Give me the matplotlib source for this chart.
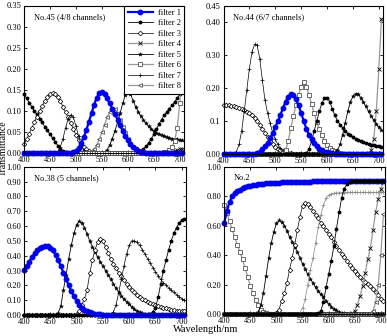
import numpy as np
import matplotlib.pyplot as plt
from matplotlib.lines import Line2D

plt.rcParams['font.family'] = ['Liberation Serif', 'DejaVu Serif']

# wavelength grid, 5 nm steps
wl = np.arange(400, 710, 5)

# ---- No.45 (4/8 channels) ----
p1_f1 = [0]*19 + [.002,
         .006, .013, .024, .038, .055, .075, .095, .115, .132, .143,
         .145, .14, .13, .118, .106, .094, .08, .066, .053, .042,
         .032, .023, .016, .01, .006, .004, .002, .001, .001, .001,
         .001, .001, .001, .001, .001, .001, .001, .001, .001, .001,
         .001, .001]
p1_f2 = [.14, .13, .12, .11, .1, .092, .082, .073, .063, .054,
         .045, .036, .027, .018, .011, .006, .003, .001, 0, 0] + [0]*24 + \
        [.002, .005, .01, .017, .025, .035,
         .045, .057, .07, .08, .09, .098, .106, .114, .122, .13,
         .14, .152]
p1_f3 = [.022, .033, .046, .06, .074, .087, .1, .112, .124, .133,
         .14, .142, .14, .133, .123, .11, .097, .085, .072, .058,
         .043, .031, .021, .014, .009, .005, .003, .002, .001, 0] + [0]*32
p1_f7 = [0]*12 + [.001, .004, .015, .035, .06, .082, .091, .085,
         .065, .04, .02, .008, .003, .001, 0, 0, 0, 0] + [0]*32
p1_f8 = [0]*25 + [.001, .004, .01, .02, .033,
         .05, .068, .085, .098, .106, .105, .095, .08, .063, .047,
         .034, .023, .015, .009, .005, .003, .002, .001, 0, 0] + [0]*12
p1_f5 = [0]*31 + [.002, .008, .02, .035, .053, .073, .095, .118, .138,
         .146, .14, .125, .11, .098, .088, .079, .071, .064, .058,
         .053, .049, .046, .043, .041, .039, .037, .035, .034, .033,
         .032, .031]
p1_f6 = [0]*54 + [.002, .004, .008, .015, .03, .06, .12, .225]
p1_f4 = [0]*55 + [.001, .002, .003, .005, .007, .009, .011]

# ---- No.44 (6/7 channels) ----
p2_f3 = [.15, .149, .148, .147, .145, .143, .14, .137, .133, .129,
         .124, .118, .11, .1, .09, .078, .065, .052, .041, .031,
         .023, .017, .012, .009, .006, .004, .003, .002, .001, 0] + [0]*32
p2_f7 = [0, 0, 0, 0, .002, .008, .03, .07, .13, .195,
         .26, .31, .333, .33, .29, .225, .165, .125, .095, .065,
         .045, .03, .018, .01, .005, .002, .001, 0, 0, 0] + [0]*32
p2_f1 = [0]*13 + [.003, .008, .015, .024, .035, .048, .064,
         .082, .1, .12, .14, .16, .174, .182, .18, .168, .148,
         .125, .1, .078, .06, .045, .033, .024, .017, .012, .008,
         .006, .004, .003, .002, .001, .001, .001, .001, .001, .001,
         .001, .001, .001, .001, .001, .001, .001, .001, .001, .001,
         .001, .001]
p2_f6 = [0]*23 + [.003, .012, .04, .08, .115, .15, .18,
         .205, .218, .205, .18, .152, .124, .098, .076, .057, .041,
         .029, .02, .013, .009, .006, .004, .002, .001, 0, 0] + [0]*12
p2_f2 = [0]*32 + [.003, .015, .04, .07, .1, .13, .155, .17,
         .172, .16, .138, .118, .102, .09, .08, .071, .063, .057,
         .051, .046, .042, .039, .036, .033, .031, .029, .027, .025,
         .024, .023]
p2_f5 = [0]*43 + [.003, .012, .03, .06, .095, .13, .158,
         .176, .184, .182, .172, .158, .145, .13, .116, .104, .092,
         .082, .075]
p2_f4 = [0]*55 + [.001, .004, .012, .045, .13, .26, .41]

# ---- No.38 (5 channels) ----
p3_f1 = [.305, .33, .36, .39, .415, .435, .45, .46, .465, .465,
         .455, .435, .405, .37, .33, .285, .24, .2, .16, .125,
         .095, .07, .05, .035, .025, .017, .012, .008, .006, .004] + [.003]*32
p3_f5 = [0]*12 + [.003, .015, .06, .17, .27, .38, .47, .55,
         .61, .632, .62, .59, .545, .5, .46, .425, .39, .36,
         .33, .3, .27, .24, .21, .18, .155, .13, .11, .09,
         .072, .055, .04, .028, .019, .012, .008, .005, .003, .002,
         .001] + [0]*11
p3_f3 = [0]*19 + [.003,
         .005, .03, .07, .11, .17, .28, .37, .44, .49, .51,
         .5, .46, .42, .375, .345, .315, .285, .26, .235, .21,
         .19, .17, .152, .136, .122, .11, .099, .089, .08, .072,
         .065, .059, .053, .048, .044, .04, .036, .033, .03, .028,
         .026, .024]
p3_f7 = [0]*33 + [.003, .02, .07, .15, .24, .33, .41,
         .47, .5, .5, .49, .47, .44, .41, .38, .35, .32,
         .29, .265, .24, .218, .2, .183, .167, .152, .138, .124,
         .11, .098]
p3_f2 = [0]*48 + [.005, .02,
         .05, .12, .21, .3, .37, .44, .5, .55, .59, .62,
         .64, .65]

# ---- No.2 ----
p4_f1 = [.62, .7, .76, .8, .82, .835, .845, .853, .86, .866,
         .87, .874, .877, .88, .882, .884, .886, .888, .889, .89,
         .891, .892, .893, .894, .895, .895, .896, .896, .897, .897,
         .898, .898, .899, .899, .9, .9, .9, .901, .901, .901,
         .902, .902, .902, .903, .903, .903, .903, .904, .904, .904,
         .904, .904, .905, .905, .905, .905, .905, .905, .905, .905,
         .906, .906]
p4_f6 = [.74, .685, .63, .575, .52, .47, .42, .37, .31, .25,
         .19, .14, .095, .058, .03, .013, .005, .002, .001, 0] + [0]*42
p4_f5 = [0]*12 + [.003, .015, .06, .14, .26, .38, .48, .56,
         .615, .635, .625, .6, .565, .525, .49, .455, .42, .38,
         .34, .305, .27, .24, .21, .18, .155, .135, .115, .09,
         .068, .05, .036, .024, .015, .008, .004, .002, .001, 0] + [0]*12
p4_f3 = [0]*20 + [.005, .03, .09, .14, .21, .3, .38, .47, .57, .66,
         .735, .755, .745, .725, .7, .675, .65, .62, .595, .57,
         .545, .52, .49, .46, .435, .41, .385, .36, .335, .31,
         .29, .27, .25, .23, .215, .205, .19, .17, .15, .128,
         .105, .085]
p4_f7 = [0]*28 + [.002, .01,
         .04, .1, .2, .3, .38, .48, .59, .67, .74, .785,
         .805, .815, .82, .822, .823, .824, .824, .825, .825, .825] + [.825]*12
p4_f2 = [0]*35 + [.002, .005, .02, .08, .18,
         .27, .36, .46, .58, .69, .79, .85, .88, .895, .902] + [.905]*12
p4_f4 = [0]*48 + [.003, .008,
         .02, .06, .12, .19, .28, .37, .45, .57, .69, .78,
         .85, .895]
p4_f8 = [0]*56 + [.003, .02, .08, .2, .4, .68]

blue = '#0000ee'
styles = {
    1: dict(color=blue, lw=1.6, marker='o', ms=3.2, mfc=blue, mec=blue),
    2: dict(color='k', lw=0.6, marker='o', ms=1.8),
    3: dict(color='k', lw=0.5, marker='D', ms=2.4, mfc='white', mew=0.5),
    4: dict(color='#999999', lw=0.9, marker='x', ms=2.4, mec='k', mew=0.6),
    5: dict(color='k', lw=0.6, marker='*', ms=3.0, mew=0.3),
    6: dict(color='#999999', lw=0.9, marker='s', ms=2.8, mfc='white', mec='#333333', mew=0.5),
    7: dict(color='k', lw=0.5, marker='+', ms=3.2, mew=0.5),
    8: dict(color='#999999', lw=0.9, marker='<', ms=2.8, mfc='white', mec='#333333', mew=0.5),
}

fig = plt.figure(figsize=(3.87, 3.36), dpi=100)
W, H = 387.0, 336.0

def make_ax(l, t, r, b):
    return fig.add_axes([l / W, 1 - b / H, (r - l) / W, (b - t) / H])

ax1 = make_ax(24, 5.5, 184, 153.3)
ax2 = make_ax(223.5, 5.8, 383, 154.3)
ax3 = make_ax(24, 166.7, 186, 315)
ax4 = make_ax(224.3, 166.7, 385, 314)

panels = [
    (ax1, [(4, p1_f4), (2, p1_f2), (3, p1_f3), (7, p1_f7), (8, p1_f8),
           (5, p1_f5), (6, p1_f6), (1, p1_f1)], 'No.45 (4/8 channels)'),
    (ax2, [(4, p2_f4), (3, p2_f3), (7, p2_f7), (6, p2_f6), (2, p2_f2),
           (5, p2_f5), (1, p2_f1)], 'No.44 (6/7 channels)'),
    (ax3, [(5, p3_f5), (3, p3_f3), (7, p3_f7), (2, p3_f2), (1, p3_f1)],
     'No.38 (5 channels)'),
    (ax4, [(6, p4_f6), (5, p4_f5), (3, p4_f3), (7, p4_f7), (4, p4_f4),
           (8, p4_f8), (1, p4_f1), (2, p4_f2)], 'No.2'),
]

for ax, curves, title in panels:
    for k, y in curves:
        st = dict(styles[k])
        if ax is ax4 and k == 7:
            st['color'] = '#888888'
        ax.plot(wl, y, clip_on=False, **st)
    ax.set_xlim(400, 708)
    ax.set_xticks([400, 450, 500, 550, 600, 650, 700])
    ax.tick_params(direction='in', length=2.5, width=0.6, labelsize=6,
                   top=True, right=True, pad=2)
    for s in ax.spines.values():
        s.set_linewidth(0.8)
    ax.text(0.06, 0.95, title, transform=ax.transAxes, fontsize=6,
            va='top', ha='left')

ax1.set_ylim(0, 0.35)
ax1.set_yticks(np.arange(0, 0.351, 0.05))
ax1.set_yticklabels(['%.2f' % v for v in np.arange(0, 0.351, 0.05)])

ax2.set_ylim(0, 0.45)
ax2.set_yticks([0, 0.1, 0.2, 0.3, 0.4, 0.45])
ax2.set_yticklabels(['0.00', '0.1', '0.20', '0.30', '0.40', '0.45'])

ax3.set_ylim(0, 1.0)
ax3.set_yticks(np.arange(0, 1.01, 0.1))
ax3.set_yticklabels(['%.2f' % v for v in np.arange(0, 1.01, 0.1)])

ax4.set_ylim(0, 1.0)
ax4.set_yticks(np.arange(0, 1.01, 0.2))
ax4.set_yticklabels(['%.2f' % v for v in np.arange(0, 1.01, 0.2)])

handles = [Line2D([], [], **styles[k]) for k in range(1, 9)]
labels = ['filter %d' % k for k in range(1, 9)]
leg = ax1.legend(handles, labels, loc='upper right', fontsize=6,
                 handlelength=3.0, labelspacing=0.3, borderaxespad=0.0,
                 fancybox=False, framealpha=1, edgecolor='k',
                 borderpad=0.4, handletextpad=0.6)
leg.get_frame().set_linewidth(0.8)
leg.set_zorder(10)

fig.text(3.5 / W, 1 - 148 / H, 'Transmittance', rotation=90, fontsize=7,
         ha='center', va='center')
fig.text(206 / W, 1 - 330 / H, 'Wavelength/nm', fontsize=7.5,
         ha='center', va='center')

fig.savefig('out.png', dpi=100)
